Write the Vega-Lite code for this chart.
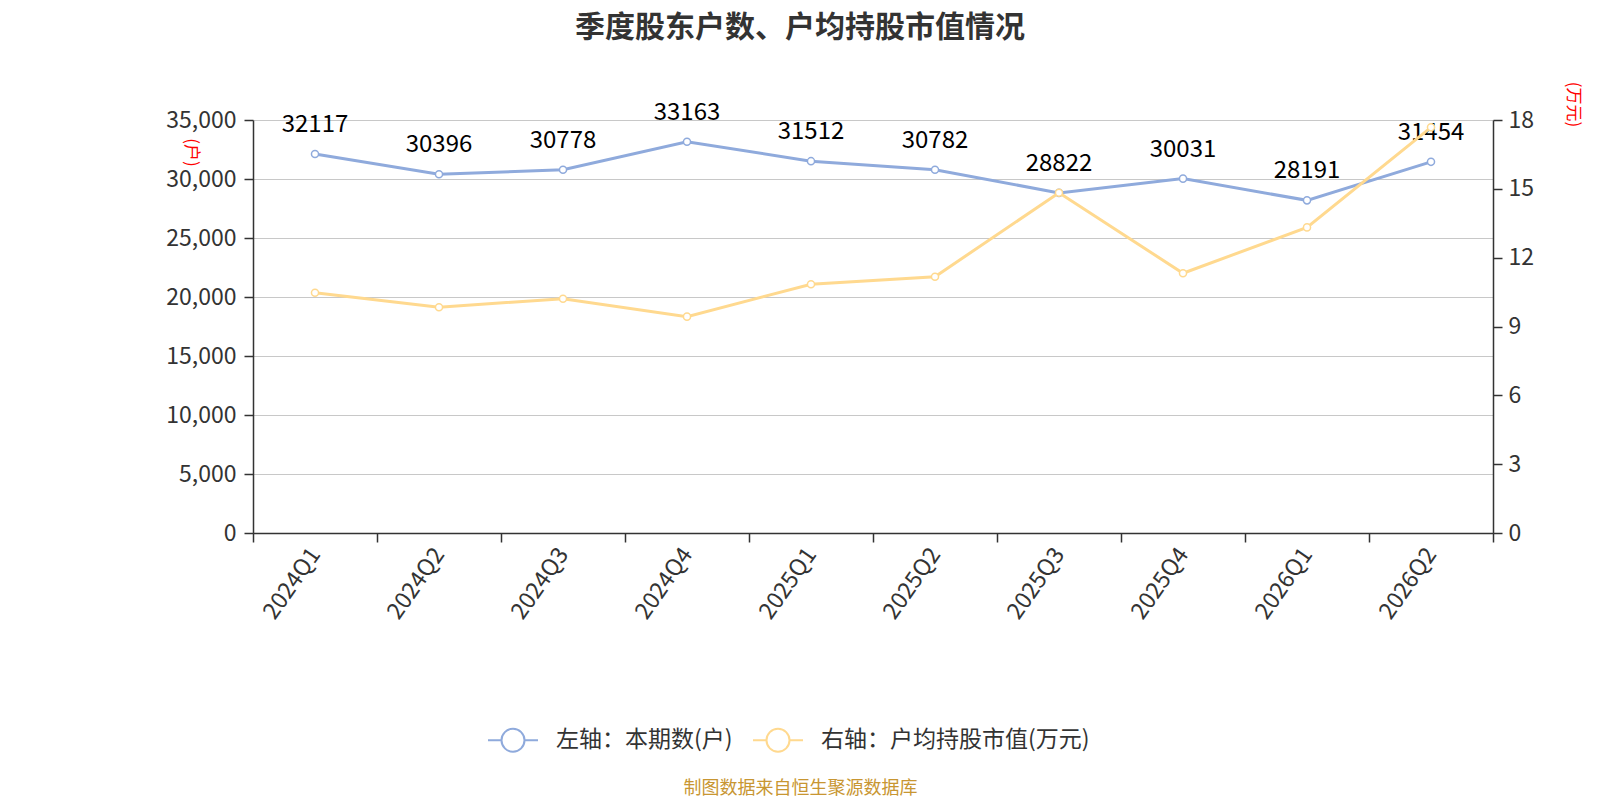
{
  "$schema": "https://vega.github.io/schema/vega-lite/v6.json",
  "width": 1240,
  "height": 413,
  "autosize": "none",
  "padding": {"left": 253, "top": 120, "right": 107, "bottom": 267},
  "background": "white",
  "config": {
    "font": "Noto Sans CJK SC",
    "view": {"stroke": null},
    "axis": {
      "labelFont": "Noto Sans CJK SC",
      "labelFontSize": 23,
      "labelColor": "#333",
      "domainColor": "#333",
      "domainWidth": 1.5,
      "tickColor": "#333",
      "tickWidth": 1.5,
      "tickSize": 9,
      "titleFontWeight": "normal"
    },
    "legend": {
      "orient": "none",
      "legendX": 234,
      "legendY": 594,
      "direction": "horizontal",
      "title": null,
      "labelFont": "Noto Sans CJK SC",
      "labelFontSize": 23,
      "labelColor": "#333",
      "labelOffset": 17,
      "labelLimit": 0,
      "columnPadding": 16,
      "symbolSize": 2500,
      "symbolStrokeWidth": 2,
      "symbolFillColor": "white",
      "symbolType": "M-1,0L-0.46,0M0.46,0A0.46,0.46,0,1,1,-0.46,0A0.46,0.46,0,1,1,0.46,0M0.46,0L1,0"
    }
  },
  "title": {
    "text": "季度股东户数、户均持股市值情况",
    "fontSize": 30,
    "fontWeight": "bold",
    "color": "#333",
    "anchor": "middle",
    "dx": -73,
    "offset": 38
  },
  "data": {
    "values": [
      {"quarter": "2024Q1", "holders": 32117, "value": 10.47},
      {"quarter": "2024Q2", "holders": 30396, "value": 9.84},
      {"quarter": "2024Q3", "holders": 30778, "value": 10.21},
      {"quarter": "2024Q4", "holders": 33163, "value": 9.43},
      {"quarter": "2025Q1", "holders": 31512, "value": 10.84},
      {"quarter": "2025Q2", "holders": 30782, "value": 11.17},
      {"quarter": "2025Q3", "holders": 28822, "value": 14.83},
      {"quarter": "2025Q4", "holders": 30031, "value": 11.32},
      {"quarter": "2026Q1", "holders": 28191, "value": 13.32},
      {"quarter": "2026Q2", "holders": 31454, "value": 17.68}
    ]
  },
  "encoding": {
    "x": {
      "field": "quarter",
      "type": "nominal",
      "sort": null,
      "bandPosition": 0.5,
      "scale": {"type": "band", "paddingInner": 0, "paddingOuter": 0},
      "axis": {
        "tickBand": "extent",
        "labelAngle": -55,
        "labelAlign": "right",
        "labelBaseline": "middle",
        "labelPadding": 8,
        "grid": false,
        "title": "制图数据来自恒生聚源数据库",
        "titleX": 547,
        "titleY": 255,
        "titleAlign": "center",
        "titleBaseline": "middle",
        "titleColor": "#c89632",
        "titleFontSize": 18,
        "titleFont": "Noto Sans CJK SC"
      }
    }
  },
  "layer": [
    {
      "encoding": {
        "y": {
          "field": "holders",
          "type": "quantitative",
          "scale": {"domain": [0, 35000], "nice": false},
          "axis": {
            "orient": "left",
            "values": [0, 5000, 10000, 15000, 20000, 25000, 30000, 35000],
            "format": ",.0f",
            "labelPadding": 8,
            "grid": true,
            "gridColor": "#c8c8c8",
            "gridWidth": 1.2,
            "title": "(户)",
            "titleColor": "red",
            "titleFontSize": 17,
            "titleAngle": 90,
            "titleX": -63,
            "titleY": 32,
            "titleAlign": "center",
            "titleBaseline": "middle"
          }
        }
      },
      "layer": [
        {
          "mark": {"type": "line", "strokeWidth": 3},
          "encoding": {
            "color": {
              "datum": "左轴：本期数(户)",
              "type": "nominal",
              "scale": {
                "domain": ["左轴：本期数(户)", "右轴：户均持股市值(万元)"],
                "range": ["#8faadc", "#ffd98f"]
              }
            }
          }
        },
        {
          "mark": {"type": "point", "filled": false, "fill": "white", "stroke": "#8faadc", "strokeWidth": 1.5, "size": 50, "opacity": 1},
          "encoding": {}
        },
        {
          "mark": {"type": "text", "fontSize": 24, "color": "#000", "baseline": "middle", "dy": -29, "font": "Noto Sans CJK SC"},
          "encoding": {"text": {"field": "holders", "type": "quantitative", "format": "d"}}
        }
      ]
    },
    {
      "encoding": {
        "y": {
          "field": "value",
          "type": "quantitative",
          "scale": {"domain": [0, 18], "nice": false},
          "axis": {
            "orient": "right",
            "values": [0, 3, 6, 9, 12, 15, 18],
            "labelPadding": 6,
            "grid": false,
            "title": "(万元)",
            "titleColor": "red",
            "titleFontSize": 17,
            "titleAngle": 90,
            "titleX": 79,
            "titleY": -16,
            "titleAlign": "center",
            "titleBaseline": "middle"
          }
        }
      },
      "layer": [
        {
          "mark": {"type": "line", "strokeWidth": 3},
          "encoding": {
            "color": {"datum": "右轴：户均持股市值(万元)", "type": "nominal"}
          }
        },
        {
          "mark": {"type": "point", "filled": false, "fill": "white", "stroke": "#ffd98f", "strokeWidth": 1.5, "size": 50, "opacity": 1},
          "encoding": {}
        }
      ]
    }
  ],
  "resolve": {"scale": {"y": "independent"}}
}
